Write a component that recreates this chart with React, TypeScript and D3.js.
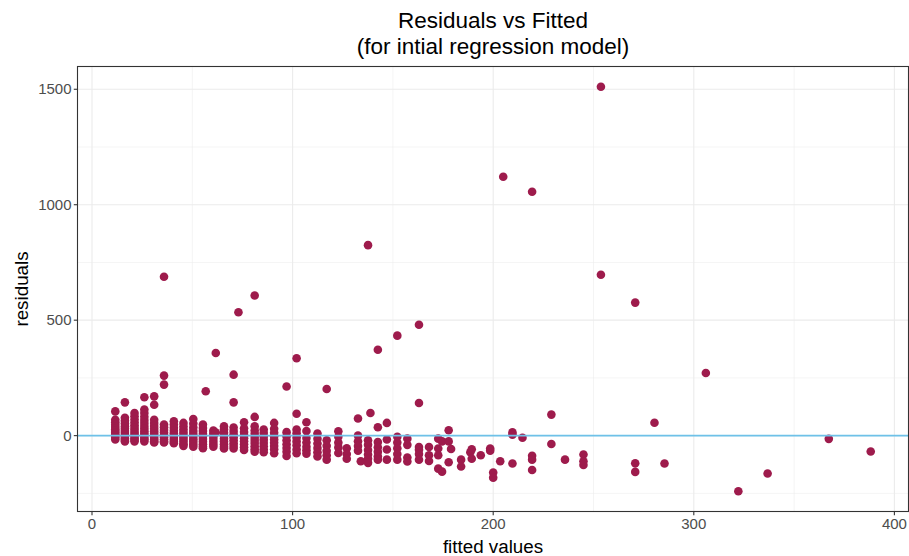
import React from "react";
import * as d3 from "d3";

// Fitted value of each group of points, and the residuals observed at that fitted value
const groupFitted: number[] = [
  11.6, 16.4, 21.2, 26.1, 31.0, 35.9, 40.8, 45.6, 50.5, 55.3, 56.7, 60.5, 61.7, 65.8, 70.6, 73.0,
  75.8, 81.1, 85.6, 90.8, 97.0, 102.0, 106.9, 112.4, 117.0, 122.8, 127.0, 132.6, 134.0, 137.6,
  138.8, 142.5, 147.0, 152.2, 157.2, 163.0, 168.0, 172.6, 174.5, 177.8, 179.0, 184.0, 188.6,
  189.3, 193.8, 198.5, 200.0, 203.5, 205.0, 209.6, 214.6, 219.4, 229.0, 235.8, 245.0, 253.7,
  270.8, 280.4, 285.4, 306.0, 322.2, 336.8, 367.3, 388.2,
];

const groupResiduals: number[][] = [
  [105, 69, 58, 47, 37, 28, 20, 12, 5, -2, -9, -17],
  [144, 77, 64, 52, 40, 30, 20, 11, 3, -5, -12, -19, -25],
  [98, 84, 70, 57, 45, 34, 24, 14, 5, -4, -12, -19, -25],
  [166, 113, 98, 82, 68, 55, 42, 30, 19, 9, 0, -9, -17, -25],
  [170, 134, 69, 55, 42, 30, 19, 9, 0, -9, -17, -24, -30],
  [688, 260, 221, 48, 36, 24, 13, 3, -7, -16, -24, -30],
  [62, 48, 34, 21, 10, 0, -10, -19, -27, -33],
  [55, 40, 26, 14, 3, -8, -18, -28, -37, -45],
  [72, 52, 35, 20, 7, -5, -16, -27, -38, -48],
  [48, 33, 20, 8, -4, -15, -26, -37, -47, -55],
  [192],
  [22, 10, -2, -14, -26, -38, -48],
  [358, 13],
  [40, 26, 12, -1, -13, -25, -37, -48, -56],
  [264, 144, 35, 20, 6, -7, -20, -33, -45, -56],
  [534],
  [58, 32, 16, 2, -11, -24, -37, -50, -62],
  [607, 81, 40, 22, 8, -6, -19, -32, -46, -59, -70],
  [26, 11, -4, -18, -32, -46, -60, -72],
  [55, 30, 12, -3, -17, -31, -45, -59, -76],
  [213, 15, -3, -20, -37, -54, -70, -88],
  [335, 95, 26, 10, -8, -25, -42, -60, -76],
  [58, 20, -10, -30, -48, -63, -78],
  [9, -14, -34, -54, -72, -90],
  [202, -20, -44, -66, -85, -104],
  [19, -5, -30, -51, -75],
  [-55, -80, -100],
  [74, 0, -24, -45, -65],
  [-111],
  [825, -20, -40, -62, -82, -100, -118],
  [98],
  [372, 36, -28, -50, -70, -90, -104],
  [55, -17, -60, -104],
  [433, -5, -30, -55, -80, -104],
  [-13, -40, -95, -112],
  [480, 141, -49, -61, -80, -104],
  [-49, -85, -110],
  [-13, -56, -85, -143],
  [-25, -156],
  [23, -25, -115],
  [-58],
  [-104, -134],
  [-72],
  [-59, -100],
  [-85],
  [-56, -65],
  [-160, -182],
  [-111],
  [1121],
  [14, 4, -121],
  [-9],
  [1056, -87, -104, -149],
  [91, -36],
  [-104],
  [-82, -111, -127],
  [1511, 697],
  [576, -120, -157],
  [56],
  [-121],
  [271],
  [-241],
  [-164],
  [-14],
  [-69],
];

const xTicks: number[] = [0, 100, 200, 300, 400];
const xMinor: number[] = [50, 150, 250, 350];
const yTicks: number[] = [0, 500, 1000, 1500];
const yMinor: number[] = [-250, 250, 750, 1250];

const titleLines: string[] = ["Residuals vs Fitted", "(for intial regression model)"];
const xLabel = "fitted values";
const yLabel = "residuals";

const W = 909;
const H = 556;
const panel = { left: 77.5, right: 908.5, top: 66.5, bottom: 511.5 };
const FONT = "'Liberation Sans', Arial, Helvetica, sans-serif";

export default function App() {
  const points = groupFitted.flatMap((fx, i) => groupResiduals[i].map((r) => ({ x: fx, y: r })));

  const xExt = d3.extent(points, (d) => d.x) as [number, number];
  const yExt = d3.extent(points, (d) => d.y) as [number, number];
  const xPad = (xExt[1] - xExt[0]) * 0.05;
  const yPad = (yExt[1] - yExt[0]) * 0.05;

  const x = d3.scaleLinear().domain([xExt[0] - xPad, xExt[1] + xPad]).range([panel.left, panel.right]);
  const y = d3.scaleLinear().domain([yExt[0] - yPad, yExt[1] + yPad]).range([panel.bottom, panel.top]);

  const cx = (panel.left + panel.right) / 2;
  const cy = (panel.top + panel.bottom) / 2;

  return (
    <svg
      width={W}
      height={H}
      style={{ position: "fixed", left: 0, top: 0, display: "block", background: "#fff" }}
      fontFamily={FONT}
    >
      <rect x={0} y={0} width={W} height={H} fill="#fff" />
      {/* minor grid */}
      {xMinor.map((t) => (
        <line key={"xm" + t} x1={x(t)} x2={x(t)} y1={panel.top} y2={panel.bottom} stroke="#EBEBEB" strokeWidth={0.55} />
      ))}
      {yMinor.map((t) => (
        <line key={"ym" + t} x1={panel.left} x2={panel.right} y1={y(t)} y2={y(t)} stroke="#EBEBEB" strokeWidth={0.55} />
      ))}
      {/* major grid */}
      {xTicks.map((t) => (
        <line key={"xM" + t} x1={x(t)} x2={x(t)} y1={panel.top} y2={panel.bottom} stroke="#EBEBEB" strokeWidth={1.1} />
      ))}
      {yTicks.map((t) => (
        <line key={"yM" + t} x1={panel.left} x2={panel.right} y1={y(t)} y2={y(t)} stroke="#EBEBEB" strokeWidth={1.1} />
      ))}
      {/* points */}
      {points.map((d, i) => (
        <circle key={i} cx={x(d.x)} cy={y(d.y)} r={4.3} fill="#9E1B4C" />
      ))}
      {/* zero line */}
      <line x1={panel.left} x2={panel.right} y1={y(0)} y2={y(0)} stroke="#6EC1E8" strokeWidth={1.6} />
      {/* panel border */}
      <rect
        x={panel.left}
        y={panel.top}
        width={panel.right - panel.left}
        height={panel.bottom - panel.top}
        fill="none"
        stroke="#333333"
        strokeWidth={1.1}
      />
      {/* x axis ticks */}
      {xTicks.map((t) => (
        <g key={"xt" + t}>
          <line x1={x(t)} x2={x(t)} y1={panel.bottom} y2={panel.bottom + 3.7} stroke="#333333" strokeWidth={1.1} />
          <text x={x(t)} y={panel.bottom + 17.5} textAnchor="middle" fontSize={15} fill="#4D4D4D">
            {t}
          </text>
        </g>
      ))}
      {/* y axis ticks */}
      {yTicks.map((t) => (
        <g key={"yt" + t}>
          <line x1={panel.left - 3.7} x2={panel.left} y1={y(t)} y2={y(t)} stroke="#333333" strokeWidth={1.1} />
          <text x={panel.left - 6} y={y(t) + 5.2} textAnchor="end" fontSize={15} fill="#4D4D4D">
            {t}
          </text>
        </g>
      ))}
      {/* axis labels */}
      <text x={cx} y={553} textAnchor="middle" fontSize={18.8} fill="#000">
        {xLabel}
      </text>
      <text
        transform={`translate(${28},${cy}) rotate(-90)`}
        textAnchor="middle"
        fontSize={18.8}
        fill="#000"
      >
        {yLabel}
      </text>
      {/* title */}
      {titleLines.map((l, i) => (
        <text key={i} x={cx} y={28 + i * 25.5} textAnchor="middle" fontSize={22.5} fill="#000">
          {l}
        </text>
      ))}
    </svg>
  );
}
